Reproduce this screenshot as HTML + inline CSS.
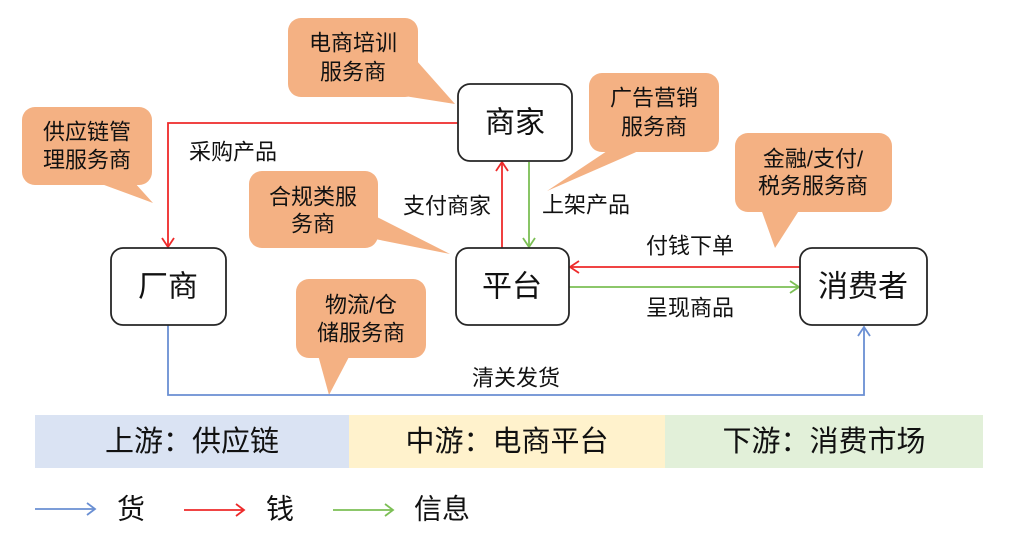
<!DOCTYPE html>
<html>
<head>
<meta charset="utf-8">
<style>
  html,body{margin:0;padding:0;background:#fff;}
  body{width:1024px;height:545px;overflow:hidden;}
  svg{display:block;}
  text{font-family:"Liberation Sans","Noto Sans CJK SC","WenQuanYi Zen Hei",sans-serif;fill:#111;}
</style>
</head>
<body>
<svg width="1024" height="545" viewBox="0 0 1024 545" xmlns="http://www.w3.org/2000/svg">
  <!-- Bands -->
  <rect x="35" y="415" width="314" height="53" fill="#dae3f3"/>
  <rect x="349" y="415" width="316" height="53" fill="#fff2cc"/>
  <rect x="665" y="415" width="318" height="53" fill="#e2f0d9"/>
  <text x="192" y="442" font-size="29" text-anchor="middle" dominant-baseline="central">上游：供应链</text>
  <text x="507" y="442" font-size="29" text-anchor="middle" dominant-baseline="central">中游：电商平台</text>
  <text x="824" y="442" font-size="29" text-anchor="middle" dominant-baseline="central">下游：消费市场</text>

  <!-- Callouts -->
  <g fill="#f4b183">
    <rect x="288" y="18" width="130" height="79" rx="13"/>
    <polygon points="416,60 455,104 398,95"/>
    <rect x="22" y="107" width="130" height="78" rx="13"/>
    <polygon points="96,182 153,203 134,182"/>
    <rect x="249" y="171" width="129" height="77" rx="13"/>
    <polygon points="375,216 450,254 375,239"/>
    <rect x="589" y="73" width="130" height="79" rx="13"/>
    <polygon points="610,149 547,191 643,149"/>
    <rect x="735" y="133" width="157" height="79" rx="13"/>
    <polygon points="761,209 775,248 800,209"/>
    <rect x="296" y="279" width="130" height="79" rx="13"/>
    <polygon points="318,355 329,395 350,355"/>
  </g>
  <g font-size="22" text-anchor="middle" dominant-baseline="central">
    <text x="353" y="43">电商培训</text>
    <text x="353" y="72">服务商</text>
    <text x="87" y="132">供应链管</text>
    <text x="87" y="160">理服务商</text>
    <text x="313" y="197">合规类服</text>
    <text x="313" y="224">务商</text>
    <text x="654" y="98">广告营销</text>
    <text x="654" y="127">服务商</text>
    <text x="813" y="159">金融/支付/</text>
    <text x="813" y="186">税务服务商</text>
    <text x="361" y="305">物流/仓</text>
    <text x="361" y="333">储服务商</text>
  </g>

  <!-- Connectors -->
  <g fill="none" stroke-width="1.8" stroke-linejoin="miter">
    <polyline points="458,123 168,123 168,247" stroke="#ee2a2a"/>
    <polyline points="162,238 168,247 174,238" stroke="#ee2a2a"/>
    <line x1="502" y1="248" x2="502" y2="162" stroke="#ee2a2a"/>
    <polyline points="496,171 502,162 508,171" stroke="#ee2a2a"/>
    <line x1="529" y1="162" x2="529" y2="247" stroke="#7cbf55"/>
    <polyline points="523,238 529,247 535,238" stroke="#7cbf55"/>
    <line x1="800" y1="267" x2="570" y2="267" stroke="#ee2a2a"/>
    <polyline points="579,261 570,267 579,273" stroke="#ee2a2a"/>
    <line x1="569" y1="287" x2="799" y2="287" stroke="#7cbf55"/>
    <polyline points="790,281 799,287 790,293" stroke="#7cbf55"/>
    <polyline points="168,325 168,395 864,395 864,327" stroke="#6a8fd3"/>
    <polyline points="858,336 864,327 870,336" stroke="#6a8fd3"/>
    <line x1="35" y1="509" x2="95" y2="509" stroke="#6a8fd3"/>
    <polyline points="87,503 95,509 87,515" stroke="#6a8fd3"/>
    <line x1="184" y1="510" x2="244" y2="510" stroke="#ee2a2a"/>
    <polyline points="236,504 244,510 236,516" stroke="#ee2a2a"/>
    <line x1="333" y1="510" x2="393" y2="510" stroke="#7cbf55"/>
    <polyline points="385,504 393,510 385,516" stroke="#7cbf55"/>
  </g>

  <!-- Nodes -->
  <g fill="#fff" stroke="#262626" stroke-width="1.8">
    <rect x="458" y="84" width="114" height="77" rx="12"/>
    <rect x="111" y="248" width="115" height="77" rx="12"/>
    <rect x="456" y="248" width="113" height="77" rx="12"/>
    <rect x="800" y="248" width="127" height="77" rx="12"/>
  </g>
  <g font-size="30" text-anchor="middle" dominant-baseline="central">
    <text x="515" y="123">商家</text>
    <text x="168" y="287">厂商</text>
    <text x="512" y="287">平台</text>
    <text x="863" y="287">消费者</text>
  </g>

  <!-- Connector labels -->
  <g font-size="22" text-anchor="middle" dominant-baseline="central">
    <text x="233" y="152">采购产品</text>
    <text x="447" y="206">支付商家</text>
    <text x="586" y="205">上架产品</text>
    <text x="690" y="246">付钱下单</text>
    <text x="690" y="308">呈现商品</text>
    <text x="516" y="378">清关发货</text>
  </g>

  <!-- Legend labels -->
  <g font-size="28" text-anchor="middle" dominant-baseline="central">
    <text x="131" y="509">货</text>
    <text x="280" y="509">钱</text>
    <text x="442" y="509">信息</text>
  </g>
</svg>
</body>
</html>
